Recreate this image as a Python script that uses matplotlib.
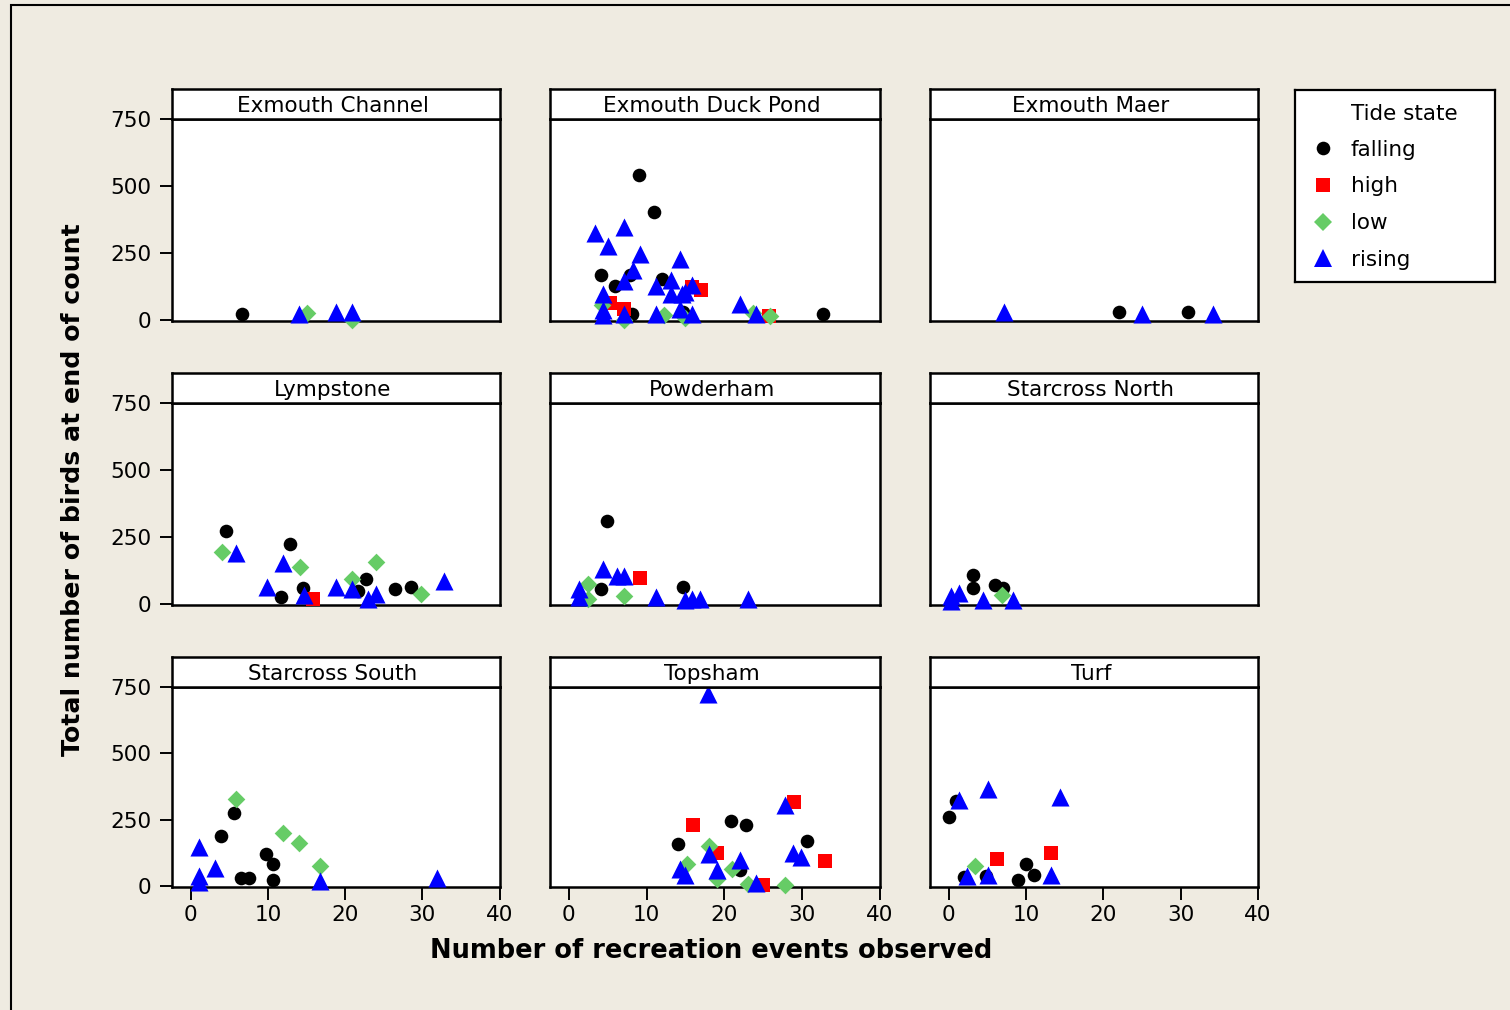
import matplotlib
matplotlib.use("Agg")
import matplotlib.pyplot as plt
from matplotlib.lines import Line2D
from matplotlib.patches import Rectangle

# ---------------- data ----------------
sites = ["Exmouth Channel", "Exmouth Duck Pond", "Exmouth Maer",
         "Lympstone", "Powderham", "Starcross North",
         "Starcross South", "Topsham", "Turf"]
tide_states = ["falling", "high", "low", "rising"]
x_ticks = [0, 10, 20, 30, 40]
y_ticks = [0, 250, 500, 750]

exmouth_channel_events = [6.6, 14.0, 15.0, 18.8, 20.9, 20.9]
exmouth_channel_birds = [21, 22, 27, 31, 31, 0]
exmouth_channel_tide = ["falling", "rising", "low", "rising", "rising", "low"]

duck_pond_events = [9.0, 11.0, 4.2, 7.9, 5.9, 12.0, 14.7, 8.1, 32.7,
                    17.0, 15.8, 5.3, 7.15, 25.7,
                    4.3, 7.15, 12.3, 14.9, 23.7, 25.85,
                    3.4, 7.15, 5.1, 9.2, 14.25, 8.2, 7.15, 11.2, 13.2, 15.9, 13.2,
                    14.5, 14.9, 4.45, 4.45, 4.45, 7.15, 11.2, 14.25, 15.9, 22.0, 24.1]
duck_pond_birds = [541, 403, 168, 168, 127, 151, 31, 21, 21,
                   112, 124, 62, 40, 15,
                   56, 0, 19, 6, 27, 15,
                   326, 346, 276, 246, 228, 187, 147, 128, 149, 131, 97,
                   97, 106, 97, 37, 20, 22, 22, 40, 22, 60, 22]
duck_pond_tide = (["falling"] * 9 + ["high"] * 5 + ["low"] * 6 + ["rising"] * 22)

exmouth_maer_events = [22.0, 30.9, 7.2, 25.0, 34.2]
exmouth_maer_birds = [29, 29, 31, 21, 21]
exmouth_maer_tide = ["falling", "falling", "rising", "rising", "rising"]

lympstone_events = [4.6, 12.8, 11.7, 14.5, 21.7, 22.7, 26.5, 28.5,
                    15.8,
                    4.0, 14.1, 20.9, 24.0, 29.8,
                    5.9, 12.0, 9.85, 14.7, 18.8, 20.9, 23.0, 24.0, 32.8]
lympstone_birds = [272, 223, 26, 58, 49, 94, 55, 65,
                   20,
                   195, 138, 92, 157, 38,
                   191, 154, 65, 34, 63, 55, 18, 36, 86]
lympstone_tide = ["falling"] * 8 + ["high"] + ["low"] * 5 + ["rising"] * 9

powderham_events = [4.9, 4.2, 14.7,
                    9.2,
                    2.5, 2.5, 7.15,
                    4.4, 6.2, 7.15, 1.3, 1.3, 11.2, 14.9, 15.9, 16.9, 23.1]
powderham_birds = [310, 55, 65,
                   98,
                   73, 18, 30,
                   132, 104, 104, 55, 24, 24, 14, 18, 18, 18]
powderham_tide = ["falling"] * 3 + ["high"] + ["low"] * 3 + ["rising"] * 10

starcross_north_events = [3.2, 3.2, 6.0, 7.0, 6.9, 0.3, 1.4, 4.4, 8.3, 0.3]
starcross_north_birds = [108, 59, 70, 61, 32, 30, 42, 14, 14, 11]
starcross_north_tide = ["falling"] * 4 + ["low"] + ["rising"] * 5

starcross_south_events = [5.6, 3.9, 9.7, 10.7, 6.5, 7.6, 10.7,
                          5.8, 12.0, 14.0, 16.8,
                          1.1, 3.1, 1.1, 1.1, 16.8, 31.9]
starcross_south_birds = [275, 188, 119, 81, 31, 31, 22,
                         329, 200, 162, 75,
                         147, 66, 37, 16, 19, 29]
starcross_south_tide = ["falling"] * 7 + ["low"] * 4 + ["rising"] * 6

topsham_events = [20.8, 22.8, 14.0, 30.6, 22.0,
                  28.9, 16.0, 19.1, 32.9, 25.0,
                  18.0, 15.2, 21.0, 19.0, 23.0, 27.8,
                  17.9, 27.8, 18.0, 28.8, 29.8, 22.0, 14.25, 15.0, 19.0, 24.1]
topsham_birds = [246, 228, 159, 169, 60,
                 318, 231, 124, 93, 4,
                 149, 81, 62, 25, 7, 4,
                 724, 306, 119, 124, 109, 97, 62, 41, 60, 12]
topsham_tide = ["falling"] * 5 + ["high"] * 5 + ["low"] * 6 + ["rising"] * 10

turf_events = [1.0, 0.1, 10.0, 11.0, 9.0, 2.0, 4.8,
               6.2, 13.3,
               3.4,
               5.1, 14.4, 1.4, 2.4, 5.1, 13.3]
turf_birds = [320, 259, 81, 41, 22, 32, 38,
              103, 124,
              75,
              365, 336, 324, 37, 41, 41]
turf_tide = ["falling"] * 7 + ["high"] * 2 + ["low"] + ["rising"] * 6

site_data = [
    (exmouth_channel_events, exmouth_channel_birds, exmouth_channel_tide),
    (duck_pond_events, duck_pond_birds, duck_pond_tide),
    (exmouth_maer_events, exmouth_maer_birds, exmouth_maer_tide),
    (lympstone_events, lympstone_birds, lympstone_tide),
    (powderham_events, powderham_birds, powderham_tide),
    (starcross_north_events, starcross_north_birds, starcross_north_tide),
    (starcross_south_events, starcross_south_birds, starcross_south_tide),
    (topsham_events, topsham_birds, topsham_tide),
    (turf_events, turf_birds, turf_tide),
]

# ---------------- style ----------------
styles = {
    "falling": dict(marker="o", color="#000000", ms=9.8),
    "high": dict(marker="s", color="#FF0000", ms=9.4),
    "low": dict(marker="D", color="#66CC66", ms=9.0),
    "rising": dict(marker="^", color="#0000FF", ms=13.0),
}
BG = "#EFEBE1"
W, H = 1510, 1010
FS = 15.5

fig = plt.figure(figsize=(W / 100, H / 100), dpi=100, facecolor=BG)


def px_axes(l, t, r, b):
    return fig.add_axes([l / W, 1 - b / H, (r - l) / W, (b - t) / H])


# figure border (top & left visible)
fig.patches.append(Rectangle((11 / W, -0.05), 1.2, 1 - 5 / H + 0.05,
                             transform=fig.transFigure, fill=False,
                             edgecolor="black", linewidth=1.5, zorder=0))

cols = [(172.3, 499.5), (550, 880), (930, 1258)]
rows = [(119, 321), (403, 605), (687, 887)]
HEADER = 30

for i, name in enumerate(sites):
    r, c = divmod(i, 3)
    l, rr = cols[c]
    t, b = rows[r]
    ax = px_axes(l, t, rr, b)
    ax.set_facecolor("white")
    xs, ys, ts = site_data[i]
    for state in tide_states:
        px = [x for x, s in zip(xs, ts) if s == state]
        py = [y for y, s in zip(ys, ts) if s == state]
        st = styles[state]
        ax.scatter(px, py, marker=st["marker"], c=st["color"], s=st["ms"] ** 2,
                   linewidths=0, clip_on=False, zorder=3)
    ax.set_xlim(-2.4, 40)
    ax.set_ylim(-4, 750)
    ax.set_xticks(x_ticks)
    ax.set_yticks(y_ticks)
    for sp in ax.spines.values():
        sp.set_linewidth(1.8)
    if c == 0:
        ax.tick_params(axis="y", length=9, width=1.4, pad=6, labelsize=FS)
    else:
        ax.tick_params(axis="y", left=False, labelleft=False)
    if r == 2:
        ax.tick_params(axis="x", length=9, width=1.4, pad=4, labelsize=FS)
    else:
        ax.tick_params(axis="x", bottom=False, labelbottom=False)

    hx = px_axes(l, t - HEADER, rr, t)
    hx.set_facecolor("white")
    hx.set_xticks([])
    hx.set_yticks([])
    for sp in hx.spines.values():
        sp.set_linewidth(1.8)
    hx.text(0.49, 0.45, name, ha="center", va="center", fontsize=FS,
            transform=hx.transAxes)

fig.text(73 / W, 1 - 489.5 / H, "Total number of birds at end of count",
         rotation=90, ha="center", va="center", fontsize=18.2,
         fontweight="bold")
fig.text(711 / W, 1 - 951 / H, "Number of recreation events observed",
         ha="center", va="center", fontsize=18.5, fontweight="bold")

# legend
lax = px_axes(1295, 90, 1495, 282)
lax.set_facecolor("white")
lax.set_xticks([])
lax.set_yticks([])
for sp in lax.spines.values():
    sp.set_linewidth(1.6)
lax.text((1351 - 1295) / 200, 1 - (114 - 90) / 192, "Tide state",
         ha="left", va="center", fontsize=FS, transform=lax.transAxes)
handles = [Line2D([], [], linestyle="none", marker=styles[s]["marker"],
                  color=styles[s]["color"], markersize=styles[s]["ms"],
                  markeredgewidth=0) for s in tide_states]
lax.legend(handles, tide_states, loc="upper left",
           bbox_to_anchor=(0.075, 0.742), frameon=False, fontsize=FS,
           handlelength=1.2, handletextpad=0.7, labelspacing=0.78,
           borderaxespad=0, borderpad=0)

fig.savefig("out.png", dpi=100, facecolor=BG)
